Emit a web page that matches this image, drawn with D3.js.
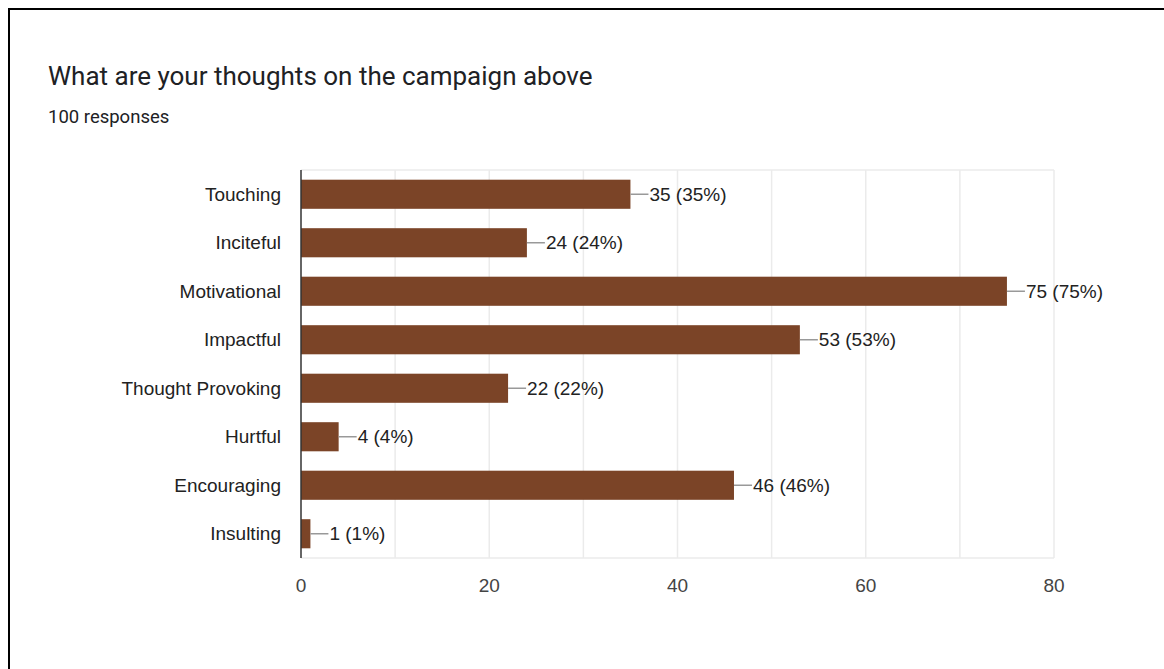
<!DOCTYPE html>
<html>
<head>
<meta charset="utf-8">
<script src="https://cdn.jsdelivr.net/npm/d3@7"></script>
<style>
  body { margin: 0; background: #fff; }
  svg { display: block; }
</style>
</head>
<body>
<svg id="chart" width="1164" height="669"></svg>
<script>
const categories = ["Touching", "Inciteful", "Motivational", "Impactful", "Thought Provoking", "Hurtful", "Encouraging", "Insulting"];
const counts = [35, 24, 75, 53, 22, 4, 46, 1];
const totalResponses = 100;
const xTicks = [0, 20, 40, 60, 80];
const gridTicks = [10, 20, 30, 40, 50, 60, 70, 80];

const svg = d3.select("#chart");
const labelFont = "'Liberation Sans', Arial, sans-serif";

// frame lines (top and left only)
svg.append("line").attr("x1", 8).attr("x2", 1164).attr("y1", 9).attr("y2", 9)
  .attr("stroke", "#000").attr("stroke-width", 2);
svg.append("line").attr("x1", 9).attr("x2", 9).attr("y1", 8).attr("y2", 669)
  .attr("stroke", "#000").attr("stroke-width", 2);

svg.append("text")
  .attr("x", 48).attr("y", 85)
  .attr("font-family", "Roboto, sans-serif")
  .attr("font-size", 26)
  .attr("fill", "#202124")
  .text("What are your thoughts on the campaign above");

svg.append("text")
  .attr("x", 48).attr("y", 123)
  .attr("font-family", "Roboto, sans-serif")
  .attr("font-size", 18.5)
  .attr("fill", "#202124")
  .text(`${totalResponses} responses`);

const x = d3.scaleLinear().domain([0, 80]).range([301, 1054]);
const y = d3.scaleBand().domain(categories).range([170, 558]).paddingInner(0.4).paddingOuter(0.2);

// grid
svg.append("g").selectAll("line")
  .data(gridTicks)
  .join("line")
  .attr("x1", d => x(d)).attr("x2", d => x(d))
  .attr("y1", 170).attr("y2", 558)
  .attr("stroke", "#ebebeb").attr("stroke-width", 1.5);
svg.append("line").attr("x1", 301).attr("x2", 1054).attr("y1", 170).attr("y2", 170)
  .attr("stroke", "#ebebeb").attr("stroke-width", 1.5);
svg.append("line").attr("x1", 301).attr("x2", 1054).attr("y1", 558).attr("y2", 558)
  .attr("stroke", "#ebebeb").attr("stroke-width", 1.5);

const data = categories.map((c, i) => ({ cat: c, n: counts[i] }));

svg.append("g").selectAll("rect")
  .data(data)
  .join("rect")
  .attr("x", x(0))
  .attr("y", d => y(d.cat))
  .attr("width", d => x(d.n) - x(0))
  .attr("height", y.bandwidth())
  .attr("fill", "#7b4427");

// baseline axis
svg.append("line").attr("x1", 301).attr("x2", 301).attr("y1", 170).attr("y2", 558)
  .attr("stroke", "#333").attr("stroke-width", 1.5);

// category labels
svg.append("g").selectAll("text")
  .data(categories)
  .join("text")
  .attr("x", 281)
  .attr("y", d => y(d) + y.bandwidth() / 2)
  .attr("dy", "0.35em")
  .attr("text-anchor", "end")
  .attr("font-family", labelFont)
  .attr("font-size", 19)
  .attr("fill", "#222")
  .text(d => d);

// value leaders and labels
const ann = svg.append("g").selectAll("g")
  .data(data)
  .join("g");
ann.append("line")
  .attr("x1", d => x(d.n))
  .attr("x2", d => x(d.n) + 18)
  .attr("y1", d => y(d.cat) + y.bandwidth() / 2)
  .attr("y2", d => y(d.cat) + y.bandwidth() / 2)
  .attr("stroke", "#999").attr("stroke-width", 1.5);
ann.append("text")
  .attr("x", d => x(d.n) + 19)
  .attr("y", d => y(d.cat) + y.bandwidth() / 2)
  .attr("dy", "0.35em")
  .attr("font-family", labelFont)
  .attr("font-size", 19)
  .attr("fill", "#222")
  .text(d => `${d.n} (${Math.round(d.n / totalResponses * 100)}%)`);

// x tick labels
svg.append("g").selectAll("text")
  .data(xTicks)
  .join("text")
  .attr("x", d => x(d))
  .attr("y", 585)
  .attr("dy", "0.35em")
  .attr("text-anchor", "middle")
  .attr("font-family", labelFont)
  .attr("font-size", 19)
  .attr("fill", "#444")
  .text(d => d);
</script>
</body>
</html>
